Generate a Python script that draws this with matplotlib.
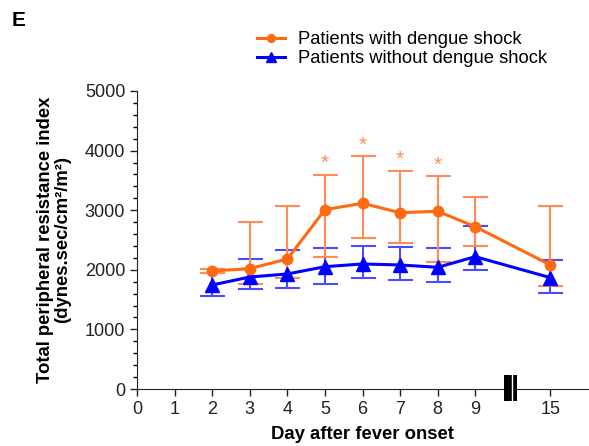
import matplotlib
matplotlib.use("Agg")
import matplotlib.pyplot as plt
from matplotlib.patches import Rectangle

plt.rcParams['font.family'] = ['Liberation Sans', 'DejaVu Sans']

# days after fever onset; day 15 sits after the axis break
days = [2, 3, 4, 5, 6, 7, 8, 9, 15]
day_pos = [2, 3, 4, 5, 6, 7, 8, 9, 11]
tick_pos = [0, 1, 2, 3, 4, 5, 6, 7, 8, 9, 11]
tick_labels = ["0", "1", "2", "3", "4", "5", "6", "7", "8", "9", "15"]

# patients with dengue shock
shock_mean = [1980, 2019, 2181, 3009, 3116, 2958, 2982, 2723, 2081]
shock_upper = [2010, 2807, 3076, 3596, 3910, 3663, 3574, 3227, 3076]
shock_lower = [1950, 1762, 1863, 2220, 2539, 2455, 2131, 2400, 1728]

# patients without dengue shock
noshock_mean = [1745, 1879, 1930, 2052, 2098, 2081, 2042, 2220, 1868]
noshock_upper = [2014, 2186, 2332, 2361, 2400, 2388, 2361, 2735, 2164]
noshock_lower = [1555, 1683, 1700, 1757, 1868, 1829, 1795, 1997, 1606]

# significant days (asterisks)
sig_days = [5, 6, 7, 8]

orange = "#ff6a10"
orange_err = "#ff8c55"
blue = "#0000ff"
blue_err = "#4a4aff"

fig = plt.figure(figsize=(5.89, 4.46), dpi=100)
ax = fig.add_axes([137/589, 1 - 389/446, (588 - 137)/589, (389 - 91)/446])

err_s = [[m - l for m, l in zip(shock_mean, shock_lower)],
         [u - m for m, u in zip(shock_mean, shock_upper)]]
err_n = [[m - l for m, l in zip(noshock_mean, noshock_lower)],
         [u - m for m, u in zip(noshock_mean, noshock_upper)]]

ax.errorbar(day_pos, noshock_mean, yerr=err_n, fmt='none', ecolor=blue_err,
            elinewidth=1.5, capsize=9, capthick=1.5, zorder=2)
ax.errorbar(day_pos, shock_mean, yerr=err_s, fmt='none', ecolor=orange_err,
            elinewidth=1.5, capsize=9, capthick=1.5, zorder=2)
l2, = ax.plot(day_pos, noshock_mean, color=blue, lw=2.2, marker='^',
              markersize=9.5, zorder=3)
l1, = ax.plot(day_pos, shock_mean, color=orange, lw=2.2, marker='o',
              markersize=7.5, zorder=4)

for d in sig_days:
    i = days.index(d)
    ax.annotate("*", (day_pos[i], shock_upper[i]), xytext=(0, 8),
                textcoords='offset points', ha='center', va='center',
                color=orange_err, fontsize=15)

ax.set_xlim(0, 12)
ax.set_ylim(0, 5000)
ax.set_xticks(tick_pos)
ax.set_xticklabels(tick_labels)
ax.set_yticks([0, 1000, 2000, 3000, 4000, 5000])
ax.set_yticks(range(0, 5001, 200), minor=True)
ax.tick_params(axis='both', which='major', labelsize=13, length=5, width=1,
               direction='out', colors='#222222')
ax.tick_params(axis='y', which='minor', length=3, width=1)
ax.spines['top'].set_visible(False)
ax.spines['right'].set_visible(False)
ax.spines['left'].set_color('#222222')
ax.spines['bottom'].set_color('#222222')

# axis break marker between 9 and 15
ax.add_patch(Rectangle((9.77, -200), 0.35, 440, facecolor='black',
                       edgecolor='none', clip_on=False, zorder=5))
ax.plot([9.97, 9.97], [-200, 240], color='white', lw=1, clip_on=False, zorder=6)

ax.set_xlabel("Day after fever onset", fontsize=13.3, fontweight='bold')
ax.xaxis.set_label_coords(0.5, -0.125)
ax.set_ylabel("Total peripheral resistance index\n(dynes.sec/cm\u00b2/m\u00b2)",
              fontsize=13.3, fontweight='bold', linespacing=1.0)
ax.yaxis.set_label_coords(-0.146, 0.5)

fig.text(12/589, 1 - 21/446, "E", fontsize=15, fontweight='bold', va='center')

fig.legend([l1, l2], ["Patients with dengue shock", "Patients without dengue shock"],
           loc='upper left', bbox_to_anchor=(257/589, 1 - 31/446), frameon=False,
           fontsize=13.2, handlelength=1.5, handletextpad=0.75, borderpad=0,
           borderaxespad=0, labelspacing=0.12, markerscale=0.75)

fig.savefig("out.png", dpi=100)
